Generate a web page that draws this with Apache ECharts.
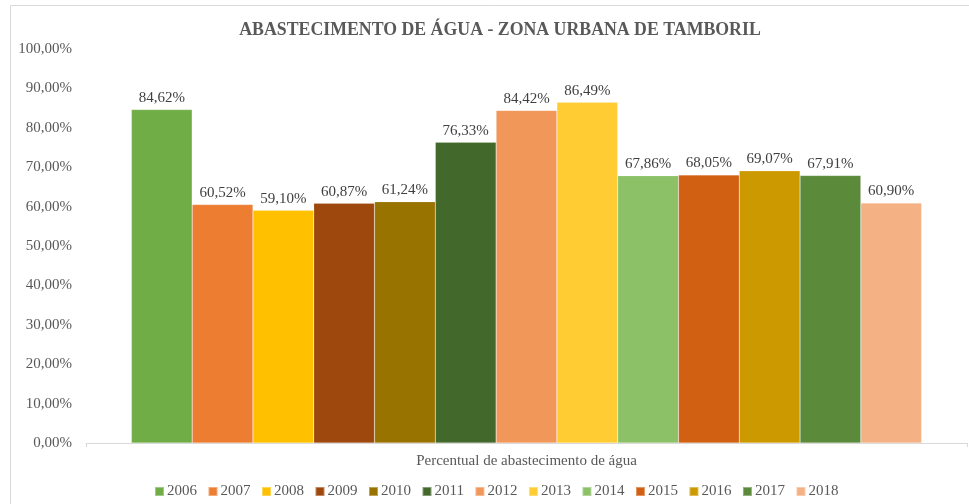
<!DOCTYPE html>
<html>
<head>
<meta charset="utf-8">
<script src="https://cdn.jsdelivr.net/npm/echarts@6/dist/echarts.min.js"></script>
<style>
html,body{margin:0;padding:0;background:#fff;}
#chart{width:969px;height:504px;}
</style>
</head>
<body>
<div id="chart"></div>
<script>
var categories = ['Percentual de abastecimento de água'];
var years = ['2006','2007','2008','2009','2010','2011','2012','2013','2014','2015','2016','2017','2018'];
var values = [84.62, 60.52, 59.10, 60.87, 61.24, 76.33, 84.42, 86.49, 67.86, 68.05, 69.07, 67.91, 60.90];
var colors = ['#70AD47','#ED7D31','#FFC000','#9E480E','#997300','#43682B','#F1975A','#FFCD33','#8CC168','#D26012','#CC9A00','#5B8A3A','#F4B183'];
var yTicks = [0,10,20,30,40,50,60,70,80,90,100];

var fmt = function(v){ return Number(v).toFixed(2).replace('.', ',') + '%'; };
var FONT = '"Liberation Serif", "Times New Roman", serif';

var series = years.map(function(y, i){
  return {
    name: y,
    type: 'bar',
    data: [values[i]],
    barGap: '0%',
    barCategoryGap: '10.3%',
    itemStyle: { color: colors[i], borderColor: 'rgba(255,255,255,0.35)', borderWidth: 0.5 },
    label: {
      show: true, position: 'top', distance: 4,
      formatter: function(p){ return fmt(p.value); },
      fontFamily: FONT, fontSize: 15, color: '#404040'
    }
  };
});

var chart = echarts.init(document.getElementById('chart'));
chart.setOption({
  animation: false,
  backgroundColor: '#fff',
  color: colors,
  title: {
    text: 'ABASTECIMENTO DE ÁGUA - ZONA URBANA DE TAMBORIL',
    left: 495, top: 16, textAlign: 'center',
    textStyle: { fontFamily: FONT, fontSize: 17.8, fontWeight: 'bold', color: '#595959' }
  },
  graphic: [{
    type: 'rect', silent: true, z: -1,
    shape: { x: 10.5, y: 5.5, width: 1000, height: 600 },
    style: { fill: 'none', stroke: '#d9d9d9', lineWidth: 1 }
  }],
  legend: {
    data: years, left: 149, top: 479, itemWidth: 9, itemHeight: 9, itemGap: 10.5,
    icon: 'rect',
    textStyle: { fontFamily: FONT, fontSize: 15, color: '#595959', padding: [0,0,0,-2] }
  },
  grid: { left: 86, right: 2, top: 49, bottom: 61, containLabel: false },
  xAxis: {
    type: 'category', data: categories,
    axisLine: { lineStyle: { color: '#d9d9d9' } },
    axisTick: { show: true, length: 4, lineStyle: { color: '#d9d9d9' } },
    axisLabel: {
      show: true, margin: 11,
      fontFamily: FONT, fontSize: 15, color: '#595959'
    }
  },
  yAxis: {
    type: 'value', min: 0, max: 100, interval: 10,
    axisLine: { show: false }, axisTick: { show: false },
    splitLine: { show: false },
    axisLabel: {
      margin: 14, fontFamily: FONT, fontSize: 15, color: '#595959',
      formatter: function(v){ return yTicks.indexOf(v) >= 0 ? fmt(v) : ''; }
    }
  },
  series: series
});
</script>
</body>
</html>
